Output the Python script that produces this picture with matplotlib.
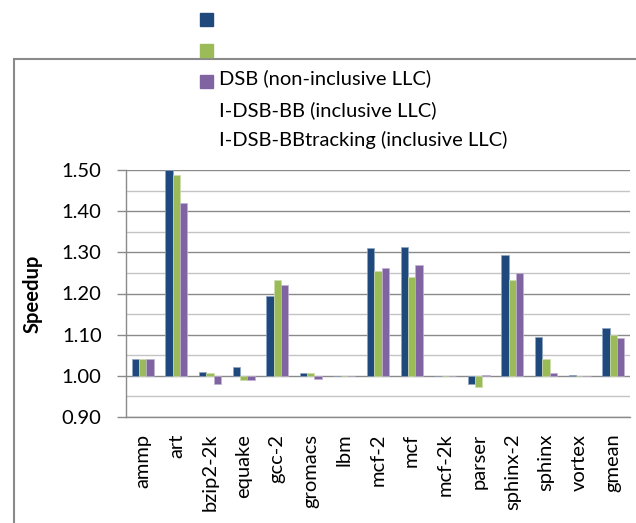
import numpy as np
import matplotlib
matplotlib.use("Agg")
from matplotlib import pyplot as plt
from matplotlib.patches import Rectangle
from matplotlib.ticker import MultipleLocator

plt.rcParams['font.family'] = ['Lato', 'DejaVu Sans']

# Benchmarks and speedups per scheme
benchmarks = ["ammp", "art", "bzip2-2k", "equake", "gcc-2", "gromacs", "lbm", "mcf-2",
              "mcf", "mcf-2k", "parser", "sphinx-2", "sphinx", "vortex", "gmean"]
dsb = [1.04, 1.50, 1.009, 1.022, 1.193, 1.008, 1.0, 1.310, 1.313, 1.0, 0.981, 1.294, 1.095, 1.002, 1.115]
idsb_bb = [1.04, 1.487, 1.007, 0.990, 1.234, 1.008, 1.0, 1.254, 1.239, 1.0, 0.973, 1.233, 1.041, 1.0, 1.098]
idsb_bbt = [1.04, 1.421, 0.981, 0.990, 1.221, 0.993, 1.0, 1.262, 1.269, 1.0, 1.001, 1.249, 1.006, 1.0, 1.092]
labels = ["DSB (non-inclusive LLC)", "I-DSB-BB (inclusive LLC)", "I-DSB-BBtracking (inclusive LLC)"]
colors = ["#1F497D", "#9BBB59", "#8064A2"]
edges = ["#8fa4be", "#cddcab", "#bfb1d0"]
fs = 14.5

W, H = 636, 523
fig = plt.figure(figsize=(W / 100, H / 100), dpi=100)

# outer chart frame, runs off the right and bottom edges
frame = Rectangle((14 / W, -0.1), 1.2, (H - 59) / H + 0.1, transform=fig.transFigure,
                  fill=False, edgecolor="#8a8a8a", linewidth=1.5)
fig.patches.append(frame)

ax = fig.add_axes([126 / W, (H - 417) / H, (630 - 126) / W, (417 - 170) / H])

x = np.arange(len(benchmarks))
bw = 0.218
for i, series in enumerate([dsb, idsb_bb, idsb_bbt]):
    vals = np.array(series)
    ax.bar(x + (i - 1) * bw, vals - 1.0, bw, bottom=1.0, color=colors[i],
           edgecolor=edges[i], linewidth=0.5, zorder=3)

ax.set_xlim(-0.5, len(benchmarks) - 0.5)
ax.set_ylim(0.9, 1.5)
ax.yaxis.set_minor_locator(MultipleLocator(0.05))
yt = np.arange(0.9, 1.51, 0.1)
ax.set_yticks(yt)
ax.set_yticklabels(["%.2f" % v for v in yt], fontsize=fs)
ax.grid(which="major", axis="y", color="#8a8a8a", linewidth=1.0, zorder=0)
ax.grid(which="minor", axis="y", color="#c4c4c4", linewidth=1.0, zorder=0)
ax.tick_params(axis="y", which="major", length=6.5, width=1.0, color="#8a8a8a", pad=11)
ax.tick_params(axis="y", which="minor", length=0)

ax.set_xticks(x)
ax.set_xticklabels(benchmarks, rotation=90, fontsize=fs, va="top", ha="center")
ax.tick_params(axis="x", length=0, pad=12)

for s in ["top", "right"]:
    ax.spines[s].set_visible(False)
for s in ["left", "bottom"]:
    ax.spines[s].set_color("#8a8a8a")
    ax.spines[s].set_linewidth(1.0)

ax.set_ylabel("Speedup", fontsize=fs, fontweight="bold")
ax.yaxis.set_label_coords((43 - 126) / (630 - 126), 0.5)

# legend: colour squares and labels
sq_top = [13, 44, 75]
for top, c in zip(sq_top, colors):
    fig.patches.append(Rectangle((200 / W, (H - top - 13) / H), 13 / W, 13 / H,
                                 transform=fig.transFigure, color=c))
for yc, lab in zip([78, 110, 140], labels):
    fig.text(219 / W, (H - yc) / H, lab, fontsize=fs, va="center", ha="left")

fig.savefig("out.png", dpi=100)
